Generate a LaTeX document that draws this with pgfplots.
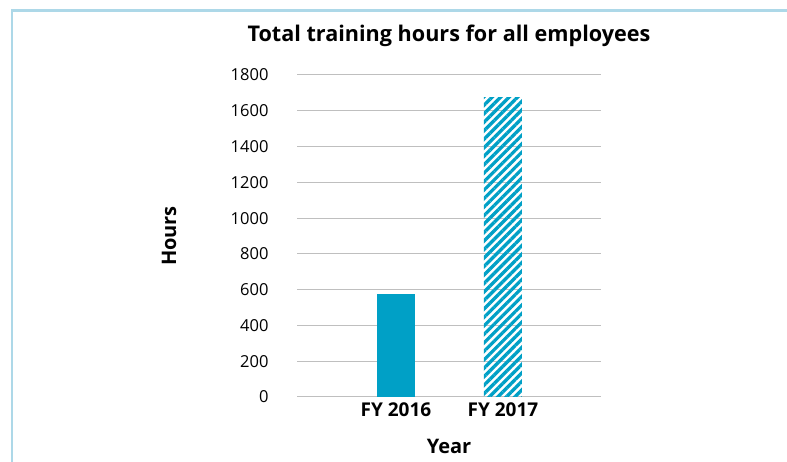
\documentclass[border=0pt]{standalone}
\usepackage{pgfplots}
\pgfplotsset{compat=1.18}
\usepackage{fontspec}
\setmainfont{Open Sans}
\usetikzlibrary{patterns.meta}
\definecolor{barteal}{HTML}{00A0C6}
\definecolor{frameblue}{HTML}{ADD8E8}
\definecolor{gridgray}{HTML}{BFBFBF}
\begin{document}
\begin{tikzpicture}
\useasboundingbox (0pt,0pt) rectangle (787pt,462pt);
\fill[white] (0pt,0pt) rectangle (787pt,462pt);
\draw[frameblue, line width=2.2pt] (12pt,0pt) -- (12pt,451.5pt) -- (787pt,451.5pt);
\begin{axis}[
  at={(297pt,65pt)}, anchor=south west,
  scale only axis, width=304pt, height=322pt,
  xmin=-0.925, xmax=1.916, ymin=0, ymax=1800,
  ytick={0,200,...,1800},
  xtick={0,1}, xticklabels={FY 2016, FY 2017},
  ymajorgrids, grid style={draw=gridgray, line width=1pt},
  axis line style={draw=none},
  major tick length=0pt,
  /pgf/number format/assume math mode=true,
  /pgf/number format/1000 sep={},
  yticklabel style={font=\fontsize{16.5}{18}\selectfont, anchor=east, xshift=-25pt},
  xticklabel style={font=\bfseries\fontsize{19}{22}\selectfont, anchor=north, yshift=-2pt},
  title={Total training hours for all employees},
  title style={font=\bfseries\fontsize{21.6}{24}\selectfont, at={([yshift=27pt]axis description cs:0.5,1)}, anchor=base},
  xlabel={Year}, ylabel={Hours},
  xlabel style={font=\bfseries\fontsize{20}{24}\selectfont, at={([yshift=-57pt]axis description cs:0.5,0)}, anchor=base},
  ylabel style={font=\bfseries\fontsize{20}{24}\selectfont, at={([xshift=-128pt]axis description cs:0,0.5)}, anchor=center},
]
\addplot[ybar, bar width=38pt, bar shift=0pt, fill=barteal, draw=none] coordinates {(0,575)};
\addplot[ybar, bar width=38pt, bar shift=0pt, draw=none, pattern={Lines[angle=45, distance=6pt, line width=3.3pt]}, pattern color=barteal] coordinates {(1,1675)};
\end{axis}
\end{tikzpicture}
\end{document}
